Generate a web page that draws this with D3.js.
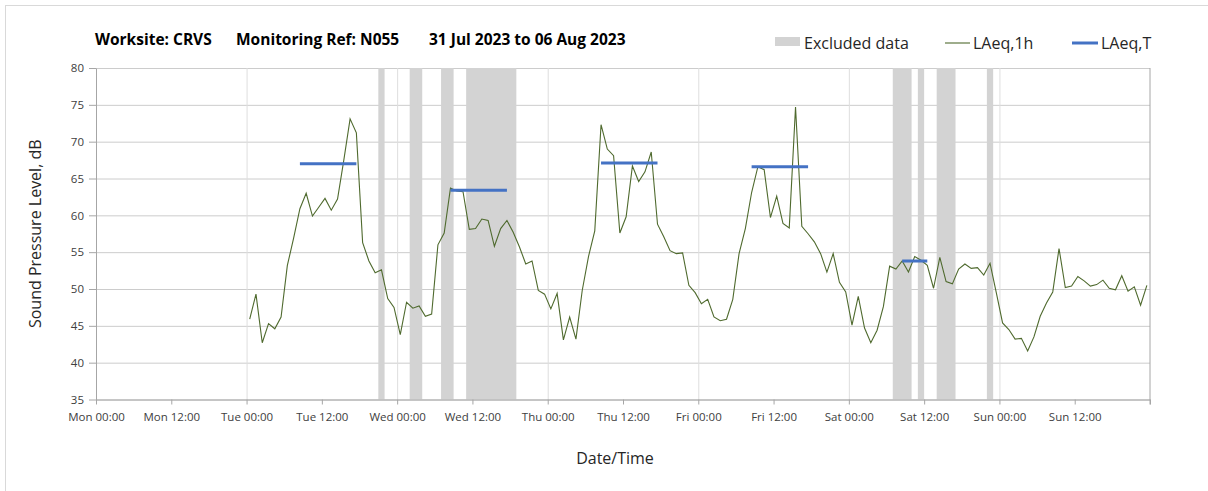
<!DOCTYPE html>
<html lang="en">
<head>
  <meta charset="UTF-8">
  <title>Worksite CRVS - Monitoring Ref N055</title>
  <style>
    html, body { margin: 0; background: #fff; }
    body, text { font-family: 'Open Sans', sans-serif; }
    .frame { fill: none; stroke: #d9d9d9; }
    .grid-y line { stroke: #cccccc; }
    .grid-x line { stroke: #dedede; }
    .axis path, .axis line { stroke: #a6a6a6; }
    .axis text { fill: #404040; font-size: 11.5px; }
    .laeq1h { fill: none; stroke: #4f6a2e; stroke-width: 1.1px; }
    .laeqT { stroke: #4472c4; stroke-width: 3px; }
    .excluded { fill: #d3d3d3; }
  </style>
</head>
<body>
<svg id="chart" width="1208" height="491" viewBox="0 0 1208 491"></svg>

<script src="https://d3js.org/d3.v7.min.js"></script>
<script>

const parseTime = d3.timeParse("%Y-%m-%d %H:%M");

// LAeq,1h values, one per hour from Tue 01 Aug 2023 00:00 (plotted at mid-hour)
const laeq1hStart = "2023-08-01 00:30";
const laeq1h = [
  45.9, 49.3, 42.7, 45.3, 44.6, 46.2, 53.2, 56.9, 60.9, 63.0, 59.9, 61.1,
  62.3, 60.7, 62.2, 67.5, 73.1, 71.2, 56.3, 53.8, 52.2, 52.6, 48.7, 47.5,
  43.8, 48.2, 47.4, 47.7, 46.3, 46.6, 56.0, 57.6, 63.7, 63.3, 63.2, 58.1,
  58.2, 59.5, 59.3, 55.8, 58.2, 59.3, 57.7, 55.7, 53.4, 53.8, 49.8, 49.3,
  47.3, 49.4, 43.1, 46.2, 43.2, 49.8, 54.4, 57.9, 72.3, 69.0, 68.1, 57.6,
  59.8, 66.7, 64.6, 65.9, 68.6, 58.8, 57.1, 55.2, 54.8, 54.9, 50.5, 49.5,
  48.0, 48.6, 46.2, 45.7, 45.9, 48.6, 54.8, 58.2, 63.1, 66.6, 66.2, 59.7,
  62.6, 58.9, 58.3, 74.7, 58.5, 57.5, 56.4, 54.8, 52.3, 54.8, 50.9, 49.6,
  45.1, 49.0, 44.7, 42.7, 44.4, 47.6, 53.1, 52.7, 53.8, 52.3, 54.4, 53.9,
  53.2, 50.1, 54.3, 51.0, 50.7, 52.7, 53.4, 52.8, 52.9, 51.9, 53.5, 49.5,
  45.4, 44.5, 43.2, 43.3, 41.6, 43.5, 46.3, 48.1, 49.6, 55.5, 50.2, 50.4,
  51.7, 51.1, 50.4, 50.6, 51.2, 50.1, 49.9, 51.8, 49.7, 50.3, 47.8, 50.5
];

// LAeq,T over each daytime period
const periodStart = ["2023-08-01 08:30", "2023-08-02 08:30", "2023-08-03 08:30", "2023-08-04 08:30", "2023-08-05 08:30"];
const periodEnd   = ["2023-08-01 17:30", "2023-08-02 17:30", "2023-08-03 17:30", "2023-08-04 17:30", "2023-08-05 12:30"];
const periodValue = [67.0, 63.4, 67.1, 66.6, 53.8];

// excluded data windows
const excludedStart = ["2023-08-01 21:00", "2023-08-02 02:00", "2023-08-02 07:00", "2023-08-02 11:00",
                       "2023-08-05 07:00", "2023-08-05 11:00", "2023-08-05 14:00", "2023-08-05 22:00"];
const excludedEnd   = ["2023-08-01 22:00", "2023-08-02 04:00", "2023-08-02 09:00", "2023-08-02 19:00",
                       "2023-08-05 10:00", "2023-08-05 12:00", "2023-08-05 17:00", "2023-08-05 23:00"];

const xTickLabels = ["Mon 00:00", "Mon 12:00", "Tue 00:00", "Tue 12:00", "Wed 00:00", "Wed 12:00", "Thu 00:00",
                     "Thu 12:00", "Fri 00:00", "Fri 12:00", "Sat 00:00", "Sat 12:00", "Sun 00:00", "Sun 12:00", ""];
const yTicks = [35, 40, 45, 50, 55, 60, 65, 70, 75, 80];

const svg = d3.select("#chart"),
    margin = {top: 68, right: 58, bottom: 91.5, left: 96},
    width = +svg.attr("width") - margin.left - margin.right,
    height = +svg.attr("height") - margin.top - margin.bottom;

const x = d3.scaleTime()
    .domain([parseTime("2023-07-31 00:00"), parseTime("2023-08-07 00:00")])
    .range([0, width]);
const y = d3.scaleLinear().domain([35, 80]).range([height, 0]);

const xTicks = d3.timeHour.every(12).range(x.domain()[0], d3.timeHour.offset(x.domain()[1], 1));

const data = laeq1h.map(function (v, i) {
  return {time: d3.timeHour.offset(parseTime(laeq1hStart), i), value: v};
});

// outer chart border
svg.append("rect").attr("class", "frame")
    .attr("x", 5.5).attr("y", 5.5).attr("width", 1220).attr("height", 500);

const g = svg.append("g").attr("transform", "translate(" + margin.left + "," + margin.top + ")");

// horizontal gridlines
g.append("g").attr("class", "grid-y")
    .call(d3.axisLeft(y).tickValues(yTicks).tickSize(-width).tickFormat(""))
    .call(function (s) { s.select(".domain").remove(); });

// vertical day gridlines
g.append("g").attr("class", "grid-x")
    .attr("transform", "translate(0," + height + ")")
    .call(d3.axisBottom(x).tickValues(xTicks.filter(function (d) { return d.getHours() === 0; }).slice(1, -1))
        .tickSize(-height).tickFormat(""))
    .call(function (s) { s.select(".domain").remove(); });

// excluded bands
g.selectAll(".excluded")
  .data(excludedStart.map(function (s, i) { return [parseTime(s), parseTime(excludedEnd[i])]; }))
  .enter().append("rect")
    .attr("class", "excluded")
    .attr("x", function (d) { return x(d[0]); })
    .attr("width", function (d) { return x(d[1]) - x(d[0]); })
    .attr("y", 0)
    .attr("height", height);

// right frame line
g.append("line")
    .attr("x1", width).attr("x2", width).attr("y1", 0).attr("y2", height + 5)
    .attr("stroke", "#a6a6a6");

// axes
g.append("g").attr("class", "axis axis--x")
    .attr("transform", "translate(0," + height + ")")
    .call(d3.axisBottom(x).tickValues(xTicks).tickSizeInner(5).tickSizeOuter(0).tickPadding(8)
        .tickFormat(function (d, i) { return xTickLabels[i]; }));

g.append("g").attr("class", "axis axis--y")
    .call(d3.axisLeft(y).tickValues(yTicks).tickSizeInner(7).tickSizeOuter(0).tickPadding(5));

// LAeq,1h line
const line = d3.line()
    .x(function (d) { return x(d.time); })
    .y(function (d) { return y(d.value); });

g.append("path").datum(data).attr("class", "laeq1h").attr("d", line);

// LAeq,T segments
g.selectAll(".laeqT")
  .data(periodValue.map(function (v, i) { return {s: parseTime(periodStart[i]), e: parseTime(periodEnd[i]), value: v}; }))
  .enter().append("line")
    .attr("class", "laeqT")
    .attr("x1", function (d) { return x(d.s); })
    .attr("x2", function (d) { return x(d.e); })
    .attr("y1", function (d) { return y(d.value); })
    .attr("y2", function (d) { return y(d.value); });

// title
const title = svg.append("g").attr("font-weight", 700).attr("font-size", 15.5).attr("fill", "#000");
title.append("text").attr("x", 95).attr("y", 45).text("Worksite: CRVS");
title.append("text").attr("x", 236).attr("y", 45).text("Monitoring Ref: N055");
title.append("text").attr("x", 429).attr("y", 45).text("31 Jul 2023 to 06 Aug 2023");

// legend
const legend = svg.append("g").attr("font-size", 16).attr("fill", "#262626");
legend.append("rect").attr("class", "excluded").attr("x", 775).attr("y", 37).attr("width", 25).attr("height", 9);
legend.append("text").attr("x", 804).attr("y", 49).text("Excluded data");
legend.append("line").attr("class", "laeq1h").attr("x1", 945).attr("x2", 970).attr("y1", 43).attr("y2", 43);
legend.append("text").attr("x", 973).attr("y", 49).text("LAeq,1h");
legend.append("line").attr("class", "laeqT").attr("x1", 1072).attr("x2", 1098).attr("y1", 43).attr("y2", 43);
legend.append("text").attr("x", 1101).attr("y", 49).text("LAeq,T");

// axis titles
svg.append("text")
    .attr("x", 615)
    .attr("y", 464)
    .attr("text-anchor", "middle")
    .attr("font-size", 16).attr("fill", "#262626")
    .text("Date/Time");

svg.append("text")
    .attr("transform", "translate(41," + (margin.top + height / 2) + ") rotate(-90)")
    .attr("text-anchor", "middle")
    .attr("font-size", 16).attr("fill", "#262626")
    .text("Sound Pressure Level, dB");

</script>
</body>
</html>
